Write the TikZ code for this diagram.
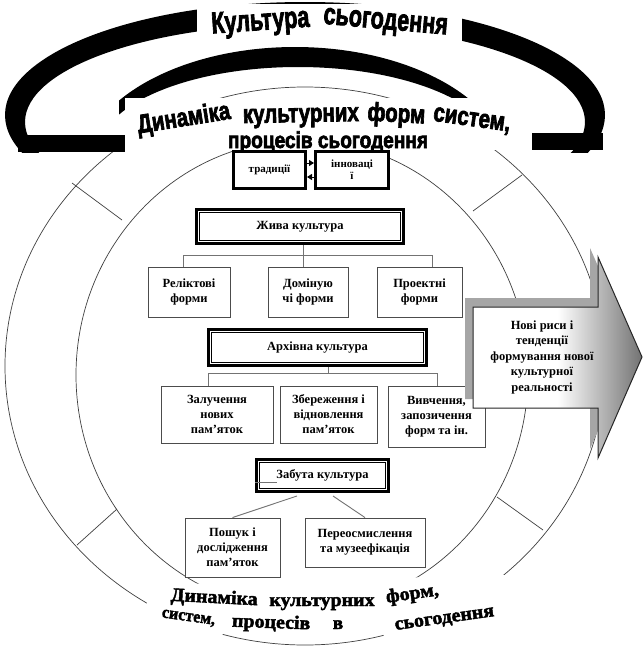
\documentclass[tikz,border=0pt]{standalone}
\usepackage{fontspec}
\setmainfont{Liberation Serif}
\newfontfamily\wa{Liberation Sans}[BoldFeatures={FakeBold=3}]
\newfontfamily\sfb{Liberation Serif}[BoldFeatures={FakeBold=2.2}]
\usetikzlibrary{arrows.meta,calc}
\begin{document}
\begin{tikzpicture}[x=1pt,y=-1pt,
  box/.style={draw=black!70, line width=0.9, fill=white, align=center, inner sep=0pt,
    font=\bfseries\fontsize{12.5}{15}\selectfont},
  dbox/.style={draw=black, line width=3.2, fill=white, align=center, inner sep=0pt,
    font=\bfseries\fontsize{12.5}{15}\selectfont},
  tbox/.style={draw=black, line width=3, fill=white, align=center, inner sep=0pt,
    font=\bfseries\fontsize{11}{12}\selectfont},
  conn/.style={draw=black!55, line width=0.9},
  circ/.style={draw=black!75, line width=0.7},
  ttla/.style={font=\wa\bfseries\fontsize{30}{30}\selectfont, inner sep=0pt, anchor=base},
  ttlb/.style={font=\wa\bfseries\fontsize{26}{26}\selectfont, inner sep=0pt, anchor=base},
  ttlc/.style={font=\wa\bfseries\fontsize{23}{23}\selectfont, inner sep=0pt, anchor=base},
  btm/.style={font=\sfb\bfseries\fontsize{19}{19}\selectfont, inner sep=0pt, anchor=base},
  atip/.style={-{Triangle[length=5pt,width=6pt]}, line width=1},
  arrtext/.style={font=\bfseries\fontsize{12.5}{15.5}\selectfont, align=center, inner sep=0pt}
]
\useasboundingbox (0,0) rectangle (643,653);
\fill[white] (0,0) rectangle (643,653);

% rings
\draw[circ] (305,366) ellipse [x radius=300pt, y radius=279pt];
\draw[circ] (302,375) ellipse [x radius=226pt, y radius=235pt];
\coordinate (r1a) at (72,183);  \coordinate (r1b) at (122,220);
\coordinate (r2a) at (117,509); \coordinate (r2b) at (77,545);
\coordinate (r3a) at (522,175); \coordinate (r3b) at (473,211);
\coordinate (r4a) at (497,497); \coordinate (r4b) at (543,530);
\draw[circ] (r1a) -- (r1b);
\draw[circ] (r2a) -- (r2b);
\draw[circ] (r3a) -- (r3b);
\draw[circ] (r4a) -- (r4b);

% black bands
\begin{scope}
  \clip (0,0) rectangle (643,152);
  \fill[even odd rule] (305,115) ellipse [x radius=300pt, y radius=113pt]
                       (305,122) ellipse [x radius=280pt, y radius=98pt];
\end{scope}
\fill (18,135) rectangle (125,152);
\fill (532,133) rectangle (603,150);
\begin{scope}
  \clip (119,0) rectangle (545,128);
  \fill[even odd rule] (295,173) ellipse [x radius=215pt, y radius=126pt]
                       (298,153) ellipse [x radius=200pt, y radius=86pt];
\end{scope}

% white title fields
\fill[white] (197,4) rectangle (462,44);
\fill[white] (125,98) rectangle (531,150);
% white field behind the bottom caption
\fill[white] (145,585) -- (505,575) -- (505,597) -- (472,603) -- (430,626) -- (385,640)
  -- (383,633) -- (223,633) -- (221,640) -- (200,633) -- (175,624) -- (148,614) -- cycle;

% titles
\node[ttla, rotate=4] (t1a) at (261,30) {\scalebox{0.72}[1]{Культура}};
\node[ttla, rotate=-5] (t1b) at (385,29) {\scalebox{0.72}[1]{сьогодення}};
\node[ttlb, rotate=9] (t2a) at (185,126) {\scalebox{0.79}[1]{Динаміка}};
\node[ttlb, rotate=1] (t2b) at (301,122) {\scalebox{0.79}[1]{культурних}};
\node[ttlb, rotate=-3] (t2c) at (396,122) {\scalebox{0.79}[1]{форм}};
\node[ttlb, rotate=-8] (t2d) at (471,126) {\scalebox{0.79}[1]{систем,}};
\node[ttlc] (t3) at (328,148) {\scalebox{0.83}[1]{процесів сьогодення}};

% tradition / innovation
\node[tbox, minimum width=72, minimum height=37] (trad) at (269.5,170) {традиції};
\node[tbox, minimum width=73, minimum height=37] (innov) at (352,170) {інноваці\\ї};
\draw[atip] ($(trad.east)+(0,-7)$) -- ($(innov.west)+(0,-7)$);
\draw[atip] ($(innov.west)+(0,7)$) -- ($(trad.east)+(0,7)$);

% living culture
\node[dbox, minimum width=207, minimum height=34] (ziva) at (300,226.5) {Жива культура};
\draw[line width=0.9] ([xshift=4.8pt,yshift=-4.8pt]ziva.north west) rectangle ([xshift=-4.8pt,yshift=4.8pt]ziva.south east);
\node[box, minimum width=82, minimum height=50] (relikt) at (189,292) {Реліктові\\форми};
\node[box, minimum width=80, minimum height=50] (domin) at (308,292) {Доміную\\чі форми};
\node[box, minimum width=85, minimum height=50] (proekt) at (419.5,292) {Проектні\\форми};
\coordinate (zl) at (183,255); \coordinate (zr) at (432,255); \coordinate (zm) at (303,255);
\draw[conn] (zl) -- (zr);
\draw[conn] (zl) -- (zl |- relikt.north);
\draw[conn] (zr) -- (zr |- proekt.north);
\draw[conn] (zm |- ziva.south) -- (zm |- domin.north);

% archive culture
\node[dbox, minimum width=218, minimum height=36] (arch) at (317.5,347.5) {Архівна культура};
\draw[line width=0.9] ([xshift=4.8pt,yshift=-4.8pt]arch.north west) rectangle ([xshift=-4.8pt,yshift=4.8pt]arch.south east);
\node[box, minimum width=112, minimum height=57] (zal) at (217,414.5) {Залучення\\нових\\пам’яток};
\node[box, minimum width=97, minimum height=57] (zber) at (328.5,414.5) {Збереження і\\відновлення\\пам’яток};
\node[box, minimum width=97, minimum height=61] (vyv) at (436.5,416.5) {Вивчення,\\запозичення\\форм та ін.};
\coordinate (al) at (208,373); \coordinate (ar) at (437,373); \coordinate (am) at (328,373);
\draw[conn] (al) -- (ar);
\draw[conn] (am |- arch.south) -- (am);
\draw[conn] (al) -- (al |- zal.north);
\draw[conn] (ar) -- (ar |- vyv.north);

% forgotten culture
\node[dbox, minimum width=132, minimum height=32] (zab) at (322.5,475.5) {Забута культура};
\draw[line width=0.9] ([xshift=4.8pt,yshift=-4.8pt]zab.north west) rectangle ([xshift=-4.8pt,yshift=4.8pt]zab.south east);
\coordinate (zt) at (277,482);
\draw[conn] (zt -| zab.west) -- (zt);
\node[box, minimum width=95, minimum height=59] (posh) at (232.5,547.5) {Пошук і\\дослідження\\пам’яток};
\node[box, minimum width=120, minimum height=49] (pere) at (365,542.5) {Переосмислення\\та музеефікація};
\coordinate (zs1) at (297,496); \coordinate (zs2) at (333,496);
\draw[conn] (zs1) -- (posh.north);
\draw[conn] (zs2) -- (pere.north);

% big arrow
\begin{scope}[shift={(-8,-9)}]
  \fill[black!35] (473,307) -- (598,307) -- (598,257) -- (642,357) -- (598,458) -- (598,408) -- (473,408) -- cycle;
\end{scope}
\shade[left color=white, right color=black!55, middle color=white]
  (473,307) -- (598,307) -- (598,257) -- (642,357) -- (598,458) -- (598,408) -- (473,408) -- cycle;
\draw[black!85, line width=1]
  (473,307) -- (598,307) -- (598,257) -- (642,357) -- (598,458) -- (598,408) -- (473,408) -- cycle;
\node[arrtext] (newt) at (542,357) {Нові риси і\\тенденції\\формування нової\\культурної\\реальності};

% bottom caption
\node[btm, rotate=-3] (b1) at (214,603) {\scalebox{1.05}[1]{Динаміка}};
\node[btm] (b2) at (322,606) {\scalebox{1.05}[1]{культурних}};
\node[btm, rotate=8] (b3) at (413,599) {\scalebox{1.05}[1]{форм,}};
\node[btm, rotate=-8] (b4) at (188,621) {\scalebox{0.85}[0.9]{систем,}};
\node[btm, rotate=-2] (b5) at (271,628) {\scalebox{1.05}[1]{процесів}};
\node[btm] (b6) at (338,629) {в};
\node[btm, rotate=8] (b7) at (445,623) {\scalebox{1.05}[1]{сьогодення}};
\end{tikzpicture}
\end{document}
